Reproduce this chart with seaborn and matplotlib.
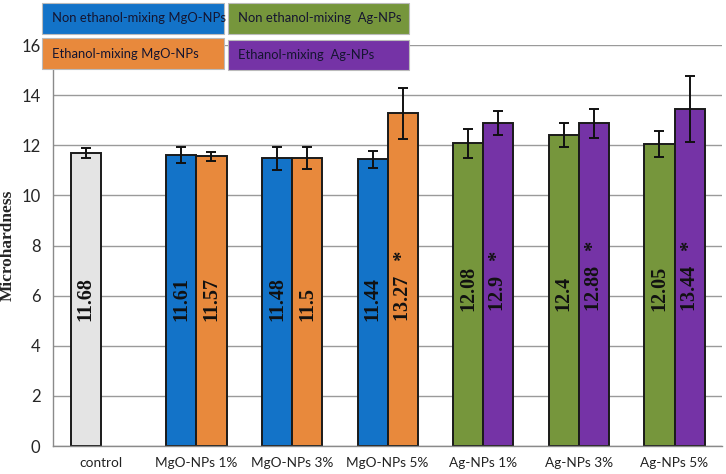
import matplotlib
matplotlib.use("Agg")
import matplotlib.pyplot as plt
from matplotlib.patches import Rectangle
import numpy as np
import pandas as pd
import seaborn as sns

# data
groups = ["control", "MgO-NPs 1%", "MgO-NPs 3%", "MgO-NPs 5%",
          "Ag-NPs 1%", "Ag-NPs 3%", "Ag-NPs 5%"]
non_ethanol = [11.68, 11.61, 11.48, 11.44, 12.08, 12.40, 12.05]
non_ethanol_err = [0.20, 0.33, 0.45, 0.33, 0.58, 0.47, 0.50]
ethanol = [np.nan, 11.57, 11.50, 13.27, 12.90, 12.88, 13.44]
ethanol_err = [np.nan, 0.18, 0.45, 1.00, 0.48, 0.58, 1.31]
ethanol_sig = [False, False, False, True, True, True, True]

legend_labels = ["Non ethanol-mixing MgO-NPs", "Ethanol-mixing MgO-NPs",
                 "Non ethanol-mixing  Ag-NPs", "Ethanol-mixing  Ag-NPs"]

c_ctrl = "#E4E4E4"
c_blue = "#1373C8"
c_orange = "#E8893C"
c_green = "#76963C"
c_purple = "#7533A6"

rows = []
for g, v in zip(groups, non_ethanol):
    rows.append({"group": g, "mix": "non", "value": v})
for g, v in zip(groups, ethanol):
    if not np.isnan(v):
        rows.append({"group": g, "mix": "eth", "value": v})
df = pd.DataFrame(rows)

sns.set_style("white")
fig = plt.figure(figsize=(7.26, 4.74), dpi=100)
ax = fig.add_axes([0.073, 0.059, 0.922, 0.846])

sns.barplot(data=df, x="group", y="value", hue="mix", order=groups,
            hue_order=["non", "eth"], width=0.63, gap=0, dodge=True,
            errorbar=None, legend=False, ax=ax, zorder=2)

def bar_color(g, mix):
    if g == "control":
        return c_ctrl
    if g.startswith("MgO"):
        return c_blue if mix == "non" else c_orange
    return c_green if mix == "non" else c_purple

serif = ["Liberation Serif", "DejaVu Serif"]
sans = ["Lato", "DejaVu Sans"]
for cont, mix, vals, errs in zip(ax.containers, ["non", "eth"],
                                 [non_ethanol, ethanol], [non_ethanol_err, ethanol_err]):
    present = [i for i, v in enumerate(vals) if not np.isnan(v)]
    for bar, i in zip(cont, present):
        g = groups[i]
        bar.set_facecolor(bar_color(g, mix))
        bar.set_edgecolor("#1a1a1a")
        bar.set_linewidth(1.4)
        xc = bar.get_x() + bar.get_width() / 2
        ax.errorbar(xc, vals[i], yerr=errs[i], fmt="none", ecolor="#111111",
                    elinewidth=1.4, capsize=3.5, capthick=1.4, zorder=3)
        label = f"{vals[i]:g}"
        if mix == "eth" and ethanol_sig[i]:
            label = label + "   *"
        ybase = 5.4 if g.startswith("Ag") else 5.0
        ax.text(xc, ybase, label, rotation=90, ha="center", va="bottom",
                fontsize=14.5, fontweight="bold", family=serif,
                color="#111111", zorder=4)

ax.set_ylim(0, 16)
ax.set_xlim(-0.5, len(groups) - 0.5)
ax.set_yticks(np.arange(0, 17, 2))
ax.yaxis.grid(True, color="#9a9a9a", linewidth=1.0)
ax.set_axisbelow(True)
for s in ["top", "right"]:
    ax.spines[s].set_visible(False)
for s in ["left", "bottom"]:
    ax.spines[s].set_color("#8a8a8a")
    ax.spines[s].set_linewidth(1.0)

ax.set_xlabel("")
ax.set_ylabel("Microhardness", fontsize=12.5, fontweight="bold", family=serif,
              labelpad=4)
ax.set_xticks(range(len(groups)))
ax.set_xticklabels(groups, fontsize=9.8, family=sans, color="#222222")
ax.tick_params(axis="x", which="major", length=0, pad=8)
ax.set_xticks(np.arange(-0.5, len(groups), 1), minor=True)
ax.tick_params(axis="x", which="minor", length=5, color="#8a8a8a")
ax.tick_params(axis="y", length=5, color="#8a8a8a", labelsize=12, pad=4)
for t in ax.get_yticklabels():
    t.set_family(sans)

# legend boxes placed on top of the chart
boxes = [
    (42, 3, 182, 31, c_blue, legend_labels[0]),
    (42, 38, 182, 31, c_orange, legend_labels[1]),
    (228, 3, 181, 31, c_green, legend_labels[2]),
    (228, 40, 181, 30, c_purple, legend_labels[3]),
]
W, H = 726, 474
for x0, y0, w, h, col, txt in boxes:
    fig.patches.append(Rectangle((x0 / W, 1 - (y0 + h) / H), w / W, h / H,
                                 transform=fig.transFigure, facecolor=col,
                                 edgecolor="#bbbbbb", linewidth=0.8, zorder=5))
    fig.text((x0 + 10) / W, 1 - (y0 + h / 2) / H, txt, ha="left", va="center",
             fontsize=9.4, family=sans, color="#151530", zorder=6)

fig.savefig("out.png", dpi=100)
